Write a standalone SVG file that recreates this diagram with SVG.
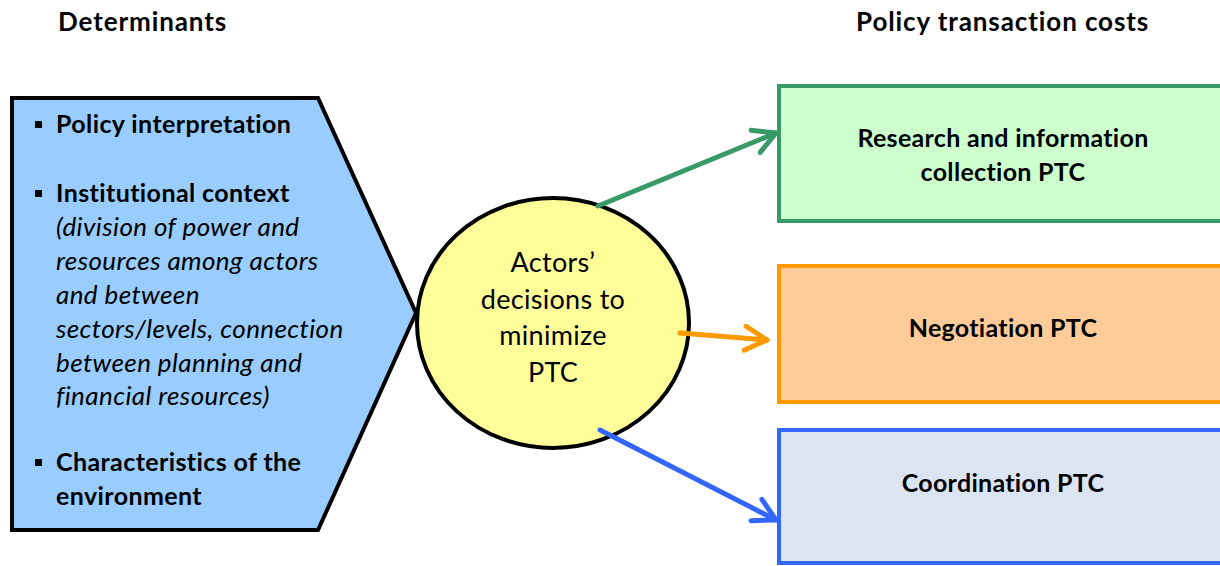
<svg xmlns="http://www.w3.org/2000/svg" width="1220" height="566" viewBox="0 0 1220 566">
<style>
  text { font-family: Lato, "Liberation Sans", sans-serif; fill: #000; }
  .head { font-size: 26px; font-weight: bold; letter-spacing: 0.9px; }
  .b { font-size: 25px; font-weight: bold; letter-spacing: 0.4px; }
  .i { font-size: 26px; font-style: italic; letter-spacing: 0.4px; }
  .circ { font-size: 27px; text-anchor: middle; letter-spacing: 0.3px; }
  .box { font-size: 25px; font-weight: bold; text-anchor: middle; letter-spacing: 0.3px; }
  .conn { fill: none; stroke-width: 5; stroke-linecap: round; stroke-linejoin: round; }
</style>
<defs>
  <marker id="mg" markerUnits="userSpaceOnUse" viewBox="-26 -16 30 32" refX="0" refY="0" markerWidth="30" markerHeight="32" orient="auto">
    <path d="M-22,-12 L0,0 L-22,12" fill="none" stroke="#389A66" stroke-width="5" stroke-linecap="round" stroke-linejoin="round"/>
  </marker>
  <marker id="mo" markerUnits="userSpaceOnUse" viewBox="-26 -16 30 32" refX="0" refY="0" markerWidth="30" markerHeight="32" orient="auto">
    <path d="M-22,-12 L0,0 L-22,12" fill="none" stroke="#FF9900" stroke-width="5" stroke-linecap="round" stroke-linejoin="round"/>
  </marker>
  <marker id="mb" markerUnits="userSpaceOnUse" viewBox="-26 -16 30 32" refX="0" refY="0" markerWidth="30" markerHeight="32" orient="auto">
    <path d="M-22,-12 L0,0 L-22,12" fill="none" stroke="#3366FF" stroke-width="5" stroke-linecap="round" stroke-linejoin="round"/>
  </marker>
</defs>

<g id="headings">
  <text class="head" x="58" y="31">Determinants</text>
  <text class="head" x="856" y="31">Policy transaction costs</text>
</g>

<g id="determinants">
  <polygon points="12,98 318,98 416,313 318,530 12,530" fill="#99CCFF" stroke="#000" stroke-width="4" stroke-linejoin="miter"/>
  <rect x="35" y="121" width="7" height="7" fill="#000"/>
  <text class="b" x="56" y="133">Policy interpretation</text>
  <rect x="35" y="190" width="7" height="7" fill="#000"/>
  <text class="b" x="56" y="202">Institutional context</text>
  <text class="i" x="56" y="236">(division of power and</text>
  <text class="i" x="56" y="270">resources among actors</text>
  <text class="i" x="56" y="304">and between</text>
  <text class="i" x="56" y="338">sectors/levels, connection</text>
  <text class="i" x="56" y="372">between planning and</text>
  <text class="i" x="56" y="405">financial resources)</text>
  <rect x="35" y="459" width="7" height="7" fill="#000"/>
  <text class="b" x="56" y="471">Characteristics of the</text>
  <text class="b" x="56" y="505">environment</text>
</g>

<g id="actors">
  <ellipse cx="553" cy="323" rx="136" ry="125" fill="#FFFF99" stroke="#000" stroke-width="4"/>
  <text class="circ" x="553" y="272">Actors’</text>
  <text class="circ" x="553" y="309">decisions to</text>
  <text class="circ" x="553" y="345">minimize</text>
  <text class="circ" x="553" y="382">PTC</text>
</g>

<g id="research">
  <rect x="779" y="86" width="450" height="135" fill="#CCFFCC" stroke="#389A66" stroke-width="4"/>
  <text class="box" x="1003" y="147">Research and information</text>
  <text class="box" x="1003" y="181">collection PTC</text>
</g>

<g id="negotiation">
  <rect x="779" y="266" width="450" height="136" fill="#FFCC99" stroke="#FF9900" stroke-width="4"/>
  <text class="box" x="1003" y="337">Negotiation PTC</text>
</g>

<g id="coordination">
  <rect x="779" y="430" width="450" height="133" fill="#DBE5F1" stroke="#3366FF" stroke-width="4"/>
  <text class="box" x="1003" y="492">Coordination PTC</text>
</g>

<g id="connectors">
  <line class="conn" x1="598" y1="206" x2="776" y2="133" stroke="#389A66" marker-end="url(#mg)"/>
  <line class="conn" x1="680" y1="333" x2="767" y2="340" stroke="#FF9900" marker-end="url(#mo)"/>
  <line class="conn" x1="600" y1="430" x2="776" y2="520" stroke="#3366FF" marker-end="url(#mb)"/>
</g>
</svg>
